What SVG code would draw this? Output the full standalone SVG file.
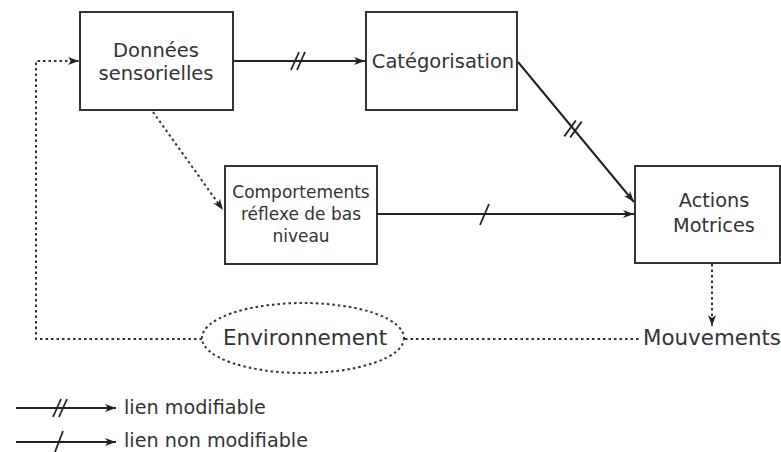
<svg xmlns="http://www.w3.org/2000/svg" width="781" height="452" viewBox="0 0 781 452">
<style>
.box{fill:#fff;stroke:#333;stroke-width:2}
.t{font-family:"DejaVu Sans",Verdana,sans-serif;fill:#333;text-anchor:middle}
.solid{fill:none;stroke:#222;stroke-width:2}
.dot{fill:none;stroke:#333;stroke-width:2;stroke-dasharray:2.5 3}
.tick{stroke:#222;stroke-width:1.8}
</style>
<defs>
<marker id="ah" markerWidth="12" markerHeight="10" refX="11" refY="5" orient="auto" markerUnits="userSpaceOnUse">
<path d="M0,1 L11,5 L0,9 L3,5 Z" fill="#222"/>
</marker>
<g id="dbl"><line class="tick" x1="-7" y1="9" x2="1" y2="-9"/><line class="tick" x1="-1" y1="9" x2="7" y2="-9"/></g>
</defs>
<rect width="781" height="452" fill="#fff"/>
<g id="connectors">
<line class="solid" x1="233" y1="61" x2="365" y2="61" marker-end="url(#ah)"/>
<use href="#dbl" x="298" y="61"/>
<line class="solid" x1="518" y1="62" x2="634" y2="202" marker-end="url(#ah)"/>
<use href="#dbl" transform="translate(573,129) rotate(12)"/>
<line class="solid" x1="377" y1="214" x2="634" y2="214" marker-end="url(#ah)"/>
<line class="tick" x1="480" y1="225" x2="489" y2="204"/>
<path class="dot" d="M153,112 L223,210" marker-end="url(#ah)"/>
<path class="dot" d="M202,339 L36,339 L36,61 L79,61" marker-end="url(#ah)"/>
<path class="dot" d="M712,264 L712,326" marker-end="url(#ah)"/>
<path class="dot" d="M405,339 L640,339"/>
</g>
<g id="donnees">
<rect class="box" x="80" y="12" width="153" height="98"/>
<text class="t" x="156" y="57" font-size="19.5">Données</text>
<text class="t" x="156" y="80" font-size="19.5">sensorielles</text>
</g>
<g id="categorisation">
<rect class="box" x="366" y="12" width="151" height="98"/>
<text class="t" x="443" y="68" font-size="19.5">Catégorisation</text>
</g>
<g id="comportements">
<rect class="box" x="225" y="166" width="152" height="98"/>
<text class="t" x="301" y="198" font-size="17">Comportements</text>
<text class="t" x="301" y="220" font-size="17">réflexe de bas</text>
<text class="t" x="301" y="242" font-size="17">niveau</text>
</g>
<g id="actions">
<rect class="box" x="635" y="166" width="145" height="97"/>
<text class="t" x="714" y="207" font-size="19.3">Actions</text>
<text class="t" x="714" y="232" font-size="19.3">Motrices</text>
</g>
<g id="environnement">
<ellipse class="dot" cx="303" cy="338" rx="101" ry="35"/>
<text class="t" x="305" y="345" font-size="21.5">Environnement</text>
</g>
<g id="mouvements">
<text class="t" x="712" y="345" font-size="21.4">Mouvements</text>
</g>
<g id="legend">
<line class="solid" x1="16" y1="408" x2="116" y2="408" marker-end="url(#ah)"/>
<use href="#dbl" x="60" y="408"/>
<text class="t" x="124" y="414" font-size="19.2" style="text-anchor:start">lien modifiable</text>
<line class="solid" x1="16" y1="442" x2="116" y2="442" marker-end="url(#ah)"/>
<line class="tick" x1="55" y1="452" x2="63" y2="431"/>
<text class="t" x="124" y="447" font-size="19.2" style="text-anchor:start">lien non modifiable</text>
</g>
</svg>
